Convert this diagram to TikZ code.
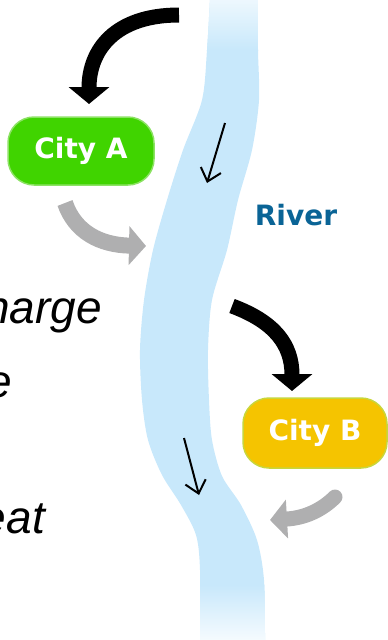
\documentclass[tikz,border=0pt]{standalone}
\usepackage{fontspec}
\setmainfont{Liberation Sans}
\newfontfamily\pixfont{DejaVu Sans}
\newfontfamily\arialfont{Liberation Sans}
\usetikzlibrary{arrows.meta}
\definecolor{riverblue}{RGB}{200,232,251}
\definecolor{greenA}{RGB}{64,212,0}
\definecolor{greenAb}{RGB}{140,226,100}
\definecolor{yellowB}{RGB}{245,196,0}
\definecolor{yellowBb}{RGB}{200,214,60}
\definecolor{grayarr}{RGB}{175,175,176}
\definecolor{riverlab}{RGB}{10,100,150}
\tikzset{
  citybox/.style={rounded corners=26pt, minimum width=146pt, minimum height=68pt,
    line width=1.5pt, inner sep=0pt, text=white,
    font=\pixfont\bfseries\fontsize{28}{28}\selectfont},
  blackarrow/.style={draw=black, line width=15pt, -{Triangle[width=40pt,length=17pt]}},
  grayarrow/.style={draw=grayarr, line width=15pt, -{Triangle[width=38pt,length=17pt]}},
  flowarrow/.style={draw=black, line width=2pt, -{Straight Barb[length=12pt,width=21pt,line width=2pt]}},
  riverlabel/.style={text=riverlab, inner sep=0pt, font=\pixfont\bfseries\fontsize{28}{28}\selectfont},
  fragtext/.style={anchor=base east, inner sep=0pt, font=\arialfont\itshape\fontsize{46}{46}\selectfont}
}
\begin{document}
\begin{tikzpicture}[x=1pt,y=-1pt]
\useasboundingbox (0,0) rectangle (388,640);
\clip (0,0) rectangle (388,640);
% river
\def\riverpath{plot[smooth] coordinates {(210,-2) (207,50) (202,100) (183,150) (167,200) (153,250) (144,300) (140,350) (142,400) (148,440) (162,475) (181,505) (196,535) (200,570) (200,642)}
  -- plot[smooth] coordinates {(265,642) (264,580) (257,540) (241,505) (222,476) (212,440) (209,400) (208,350) (212,300) (227,250) (238,200) (252,150) (259,100) (258,50) (258,-2)} -- cycle}
\fill[riverblue] \riverpath;
\begin{scope}
  \clip \riverpath;
  \shade[top color=riverblue!30, bottom color=riverblue] (180,-2) rectangle (280,50);
  \shade[top color=riverblue, bottom color=riverblue!15] (180,585) rectangle (280,642);
\end{scope}
% text fragments
\node[fragtext] (t1) at (102,323) {harge};
\node[fragtext] (t2) at (12,397) {e};
\node[fragtext] (t3) at (45,533) {eat};
% nodes
\node[citybox, fill=greenA, draw=greenAb] (cityA) at (81,151) {City A};
\node[citybox, fill=yellowB, draw=yellowBb, minimum width=144pt, minimum height=70pt] (cityB) at (315,433) {City B};
\node[riverlabel] (river) at (296,215) {River};
% coordinates
\coordinate (a1s) at (179,15);
\coordinate (a1e) at (89,104);
\coordinate (a2s) at (232,306);
\coordinate (a2e) at (292,391);
\coordinate (g1s) at (65,203);
\coordinate (g1e) at (146,246);
\coordinate (g2s) at (335,497);
\coordinate (g2e) at (270,520);
\coordinate (f1s) at (225,123);
\coordinate (f1e) at (207,183);
\coordinate (f2s) at (184,438);
\coordinate (f2e) at (199,495);
% arrows
\draw[blackarrow] (a1s) .. controls (115,15) and (89,50) .. (a1e);
\draw[blackarrow] (a2s) .. controls (275,322) and (292,345) .. (a2e);
\draw[grayarrow, line width=16pt] (g1s) .. controls (75,232) and (100,245) .. (g1e);
\draw[grayarrow, line cap=round] (g2s) .. controls (322,510) and (305,518) .. (g2e);
\draw[flowarrow] (f1s) -- (f1e);
\draw[flowarrow] (f2s) -- (f2e);
\end{tikzpicture}
\end{document}
